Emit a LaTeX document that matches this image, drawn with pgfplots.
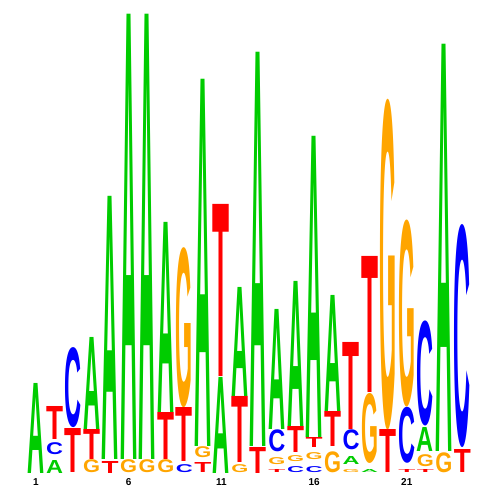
\documentclass[border=0pt]{standalone}
\usepackage{pgfplots}
\pgfplotsset{compat=1.18}
\usepackage{graphicx}
\usepackage{fontspec}
\setmainfont{Liberation Sans}
\definecolor{lgA}{RGB}{0,204,0}
\definecolor{lgC}{RGB}{0,0,255}
\definecolor{lgG}{RGB}{255,165,0}
\definecolor{lgT}{RGB}{255,0,0}
\pgfplotsset{
  letter/.style n args={2}{
    draw=none, mark=none,
    visualization depends on={value \thisrow{h} \as \hh},
    nodes near coords={\resizebox*{17pt}{\hh pt}{\bfseries #1}},
    every node near coord/.append style={anchor=south, inner sep=0pt, outer sep=0pt, text=#2},
  },
}
\begin{document}
\begin{tikzpicture}
\begin{axis}[
  scale only axis, width=500pt, height=500pt,
  xmin=-0.942, xmax=26.03, ymin=-27, ymax=473,
  clip=false,
  axis line style={draw=none},
  tick style={draw=none},
  ytick=\empty,
  xtick={1,6,11,16,21},
  /pgf/number format/assume math mode=true,
  xticklabel style={anchor=center, yshift=18pt, font=\fontsize{10}{11}\selectfont\bfseries},
]
% A
\addplot[letter={A}{lgA}] table {
x y h
1 0 90
2 0 13
4 43 92
5 13 263
6 13 445
7 13 445
8 60 190
10 26 367
11 0 96
12 76 109
13 26 394
14 43 120
15 46 145
16 35 301
17 61 116
18 8 8
19 0 3
22 21 24
23 21 407
};
% C
\addplot[letter={C}{lgC}] table {
x y h
2 18 12
3 45 80
9 0 8
14 21 22
15 0 6
16 0 6
18 23 20
21 10 56
22 47 105
24 25 223
};
% G
\addplot[letter={G}{lgG}] table {
x y h
4 0 13
6 0 13
7 0 13
8 0 13
9 65 160
10 15 11
12 0 8
14 8 7
15 11 6
16 13 7
17 0 21
18 0 3
19 10 70
20 43 330
21 66 187
22 6 12
23 0 20
};
% T
\addplot[letter={T}{lgT}] table {
x y h
2 33 33
3 0 44
4 13 30
5 0 12
8 13 47
9 11 54
10 0 10
11 96 172
12 10 66
13 0 26
14 0 3
15 20 26
16 25 10
17 26 35
18 43 87
19 80 136
20 0 43
21 0 3
22 0 3
24 0 23
};
\end{axis}
\end{tikzpicture}
\end{document}
